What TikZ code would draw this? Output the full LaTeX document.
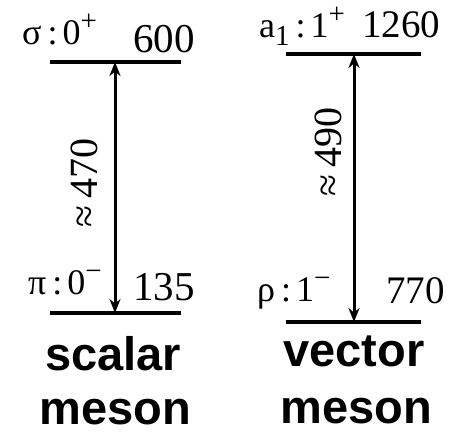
\documentclass[tikz,border=0pt]{standalone}
\usepackage{fontspec}
\setmainfont{Liberation Serif}
\setsansfont{Liberation Sans}
\usetikzlibrary{arrows.meta}
\newcommand\upsc[1]{\raisebox{0.4em}{\fontsize{29}{29}\selectfont #1}}
\newcommand\dnsc[1]{\raisebox{-0.2em}{\fontsize{29}{29}\selectfont #1}}
\newcommand\colsep{\hspace{6pt}:\hspace{5pt}}
\begin{document}
\begin{tikzpicture}[x=1pt,y=1pt,
  level/.style={line width=3.2pt},
  gap/.style={line width=3pt,{Stealth[length=14pt,width=11pt]}-{Stealth[length=14pt,width=11pt]}},
  state/.style={inner sep=0pt,anchor=base west,font=\fontsize{36}{36}\selectfont},
  mass/.style={inner sep=0pt,anchor=base west,font=\fontsize{41}{41}\selectfont},
  diff/.style={inner sep=0pt,rotate=90,font=\fontsize{40}{40}\selectfont},
  kind/.style={inner sep=0pt,anchor=base,font=\fontsize{47}{47}\selectfont\sffamily\bfseries}]
\useasboundingbox (0,0) rectangle (459,434);
% scalar
\coordinate (sTl) at (50,372); \coordinate (sTr) at (181,372);
\coordinate (sBl) at (50,121); \coordinate (sBr) at (181,121);
\coordinate (sT) at (115,372); \coordinate (sB) at (115,121);
\draw[level] (sTl) -- (sTr);
\draw[level] (sBl) -- (sBr);
\draw[gap] (sB) -- (sT);
\node[state] (sig) at (22,389) {σ\colsep0\upsc{+}};
\node[mass] (m600) at (133,381) {600};
\node[state] (pi) at (28,139) {π\colsep0\upsc{−}};
\node[mass] (m135) at (133,133) {135};
\node[diff] (d470) at (84,251) {≈\,470};
\node[kind] (scal) at (113,63) {scalar};
\node[kind] (mes1) at (115,9) {meson};
% vector
\coordinate (vTl) at (286,380); \coordinate (vTr) at (421,380);
\coordinate (vBl) at (286,112); \coordinate (vBr) at (421,112);
\coordinate (vT) at (354,380); \coordinate (vB) at (354,112);
\draw[level] (vTl) -- (vTr);
\draw[level] (vBl) -- (vBr);
\draw[gap] (vB) -- (vT);
\node[state] (a1) at (259,396) {a\dnsc{1}\colsep1\upsc{+}};
\node[mass,font=\fontsize{39}{39}\selectfont] (m1260) at (362,396) {1260};
\node[state] (rho) at (257,132) {ρ\colsep1\upsc{−}};
\node[mass,font=\fontsize{39}{39}\selectfont] (m770) at (386,130) {770};
\node[diff] (d490) at (328,282) {≈\,490};
\node[kind] (vec) at (354,67) {vector};
\node[kind] (mes2) at (356,10) {meson};
\end{tikzpicture}
\end{document}
